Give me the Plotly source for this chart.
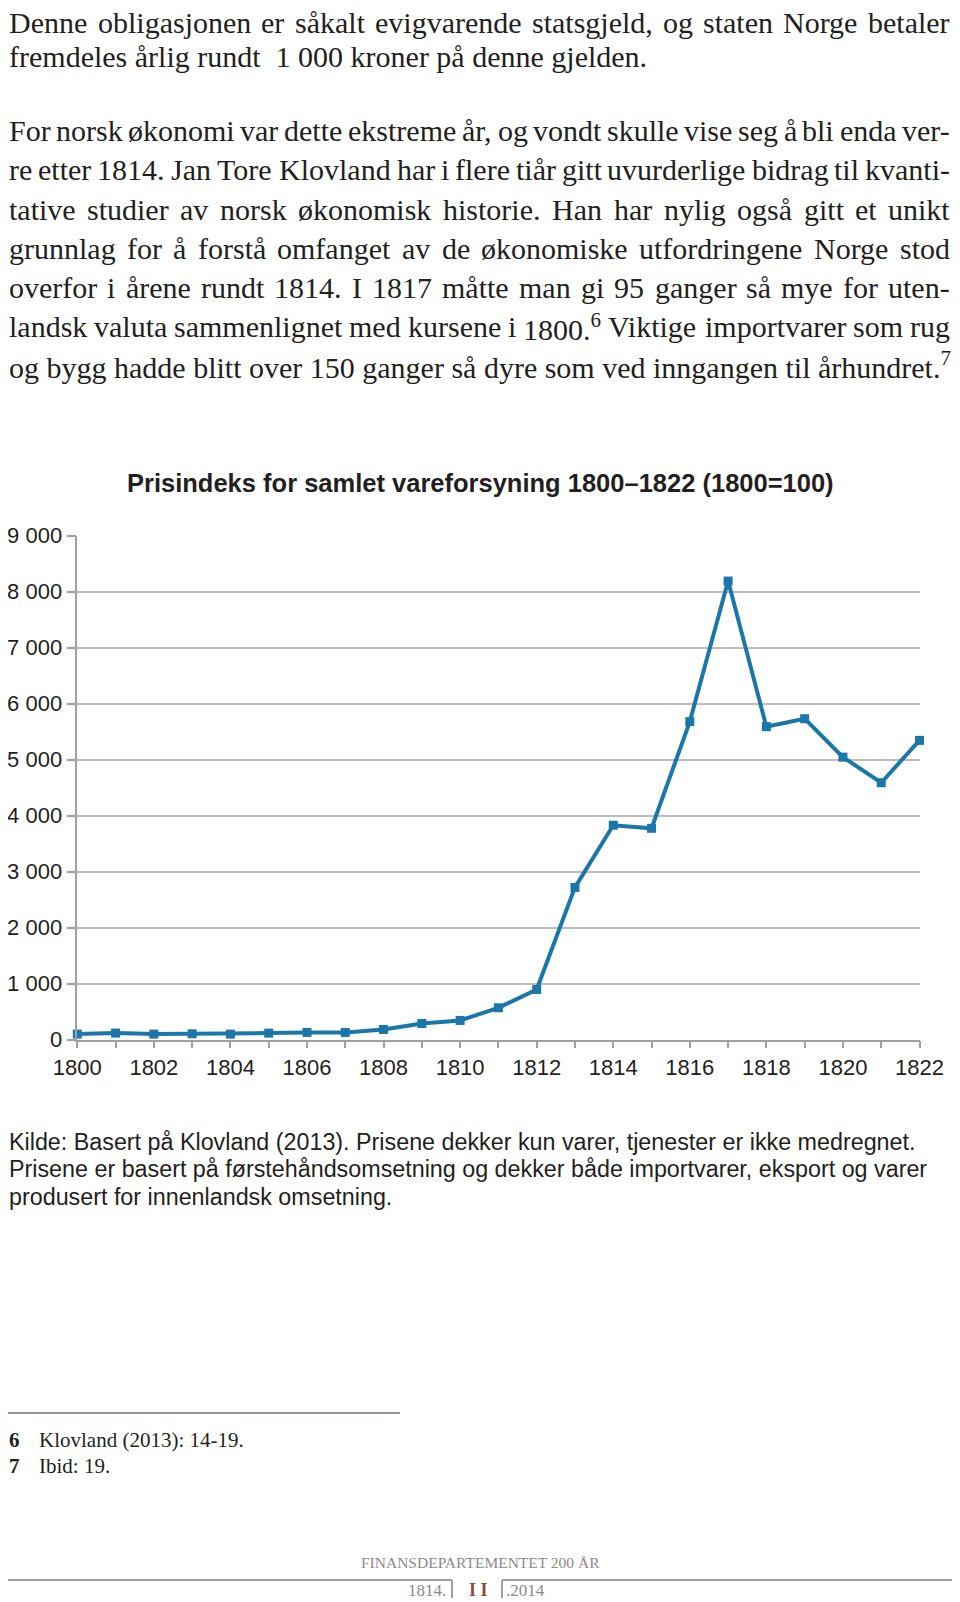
import plotly.graph_objects as go

# ---- data ----
years = list(range(1800, 1823))
price_index = [100, 118, 100, 106, 100, 118, 130, 130, 183, 290, 344, 570, 897,
               2720, 3830, 3775, 5680, 8190, 5590, 5732, 5046, 4589, 5345]
y_tickvals = [0, 1000, 2000, 3000, 4000, 5000, 6000, 7000, 8000, 9000]
y_ticktext = ["0", "1 000", "2 000", "3 000", "4 000", "5 000", "6 000", "7 000", "8 000", "9 000"]
x_tickvals = [1800, 1802, 1804, 1806, 1808, 1810, 1812, 1814, 1816, 1818, 1820, 1822]
x_ticktext = [str(v) for v in x_tickvals]

title_text = "Prisindeks for samlet vareforsyning 1800–1822 (1800=100)"

# (text, justified?)
body_lines = [
    ("Denne obligasjonen er såkalt evigvarende statsgjeld, og staten Norge betaler", True),
    ("fremdeles årlig rundt\u00a0 1\u00a0000 kroner på denne gjelden.", False),
    ("For norsk økonomi var dette ekstreme år, og vondt skulle vise seg å bli enda ver-", True),
    ("re etter 1814. Jan Tore Klovland har i flere tiår gitt uvurderlige bidrag til kvanti-", True),
    ("tative studier av norsk økonomisk historie. Han har nylig også gitt et unikt", True),
    ("grunnlag for å forstå omfanget av de økonomiske utfordringene Norge stod", True),
    ("overfor i årene rundt 1814. I 1817 måtte man gi 95 ganger så mye for uten-", True),
    ("landsk valuta sammenlignet med kursene i 1800.<sup>6</sup> Viktige importvarer som rug", True),
    ("og bygg hadde blitt over 150 ganger så dyre som ved inngangen til århundret.<sup>7</sup>", False),
]
caption_lines = [
    "Kilde: Basert på Klovland (2013). Prisene dekker kun varer, tjenester er ikke medregnet.",
    "Prisene er basert på førstehåndsomsetning og dekker både importvarer, eksport og varer",
    "produsert for innenlandsk omsetning.",
]
footnotes = [("6", "Klovland (2013): 14-19."), ("7", "Ibid: 19.")]

# The page body has an 8px margin, so the figure is sized to sit inside the window
OFF = 8
W, H = 960 - 2 * OFF, 1602 - OFF


def px(x):
    return (x - OFF) / W


def py(y):
    return 1 - (y - OFF) / H


BLUE = "#1b76a9"
TXT = "#231f20"
SERIF = "Liberation Serif, Times New Roman, serif"
SANS = "Liberation Sans, Arial, sans-serif"

# Times-compatible advance widths (1/1000 em) used to justify the body text
_w = dict(a=444, b=500, c=444, d=500, e=444, f=333, g=500, h=500, i=278, j=278, k=500, l=278,
          m=778, n=500, o=500, p=500, q=500, r=333, s=389, t=278, u=500, v=500, w=722, x=500,
          y=500, z=444, A=722, B=667, C=667, D=722, E=611, F=556, G=722, H=722, I=333, J=389,
          K=722, L=611, M=889, N=722, O=722, P=556, Q=722, R=667, S=556, T=611, U=722, V=722,
          W=944, X=722, Y=722, Z=611)
_w.update({str(d): 500 for d in range(10)})
_w.update({" ": 250, ".": 250, ",": 250, "-": 333, ":": 278, "(": 333, ")": 333,
           "å": 444, "ø": 500, "æ": 667, "\u00a0": 250})


def word_width(word, size):
    total = 0.0
    rest = word
    while rest:
        if rest.startswith("<sup>"):
            end = rest.index("</sup>")
            total += sum(_w.get(c, 500) for c in rest[5:end]) * 0.7
            rest = rest[end + 6:]
        else:
            total += _w.get(rest[0], 500)
            rest = rest[1:]
    return total / 1000.0 * size


BODY_SIZE = 30
LEFT, RIGHT = 8, 949

fig = go.Figure()
fig.add_trace(go.Scatter(
    x=years, y=price_index, mode="lines+markers",
    line=dict(color=BLUE, width=4),
    marker=dict(symbol="square", size=9, color=BLUE),
    cliponaxis=False, showlegend=False, hoverinfo="x+y",
))

ann = []
body_y = [22.0, 56.0, 130.7, 169.5, 209.4, 248.2, 287.0, 326.8, 364.6]
for (t, just), y in zip(body_lines, body_y):
    if not just:
        ann.append(dict(x=px(LEFT), y=py(y), xref="paper", yref="paper", text=t,
                        xanchor="left", yanchor="middle", showarrow=False, borderpad=0,
                        font=dict(family=SERIF, size=BODY_SIZE, color=TXT)))
        continue
    words = t.split(" ")
    widths = [word_width(wd, BODY_SIZE) for wd in words]
    gap = (RIGHT - LEFT - sum(widths)) / (len(words) - 1)
    xpos = LEFT
    for wd, ww in zip(words, widths):
        ann.append(dict(x=px(xpos), y=py(y), xref="paper", yref="paper", text=wd,
                        xanchor="left", yanchor="middle", showarrow=False, borderpad=0,
                        font=dict(family=SERIF, size=BODY_SIZE, color=TXT)))
        xpos += ww + gap

ann.append(dict(x=px(480), y=py(483), xref="paper", yref="paper", text="<b>" + title_text + "</b>",
                xanchor="center", yanchor="middle", showarrow=False,
                font=dict(family=SANS, size=25.5, color=TXT)))

for t, y in zip(caption_lines, [1142, 1169, 1197]):
    ann.append(dict(x=px(8), y=py(y), xref="paper", yref="paper", text=t,
                    xanchor="left", yanchor="middle", showarrow=False, borderpad=0,
                    font=dict(family=SANS, size=23.3, color=TXT)))

for (n, t), y in zip(footnotes, [1440, 1466]):
    ann.append(dict(x=px(8), y=py(y), xref="paper", yref="paper", text="<b>" + n + "</b>",
                    xanchor="left", yanchor="middle", showarrow=False, borderpad=0,
                    font=dict(family=SERIF, size=21, color=TXT)))
    ann.append(dict(x=px(38), y=py(y), xref="paper", yref="paper", text=t,
                    xanchor="left", yanchor="middle", showarrow=False, borderpad=0,
                    font=dict(family=SERIF, size=21, color=TXT)))

ann.append(dict(x=px(480), y=py(1562), xref="paper", yref="paper", text="FINANSDEPARTEMENTET 200 ÅR",
                xanchor="center", yanchor="middle", showarrow=False,
                font=dict(family=SERIF, size=15.5, color="#8a8a8a")))
ann.append(dict(x=px(448), y=py(1590), xref="paper", yref="paper", text="1814.",
                xanchor="right", yanchor="middle", showarrow=False,
                font=dict(family=SERIF, size=17, color="#8a8a8a")))
ann.append(dict(x=px(478), y=py(1590), xref="paper", yref="paper", text="<b>I I</b>",
                xanchor="center", yanchor="middle", showarrow=False,
                font=dict(family=SERIF, size=18, color="#8b4a3c")))
ann.append(dict(x=px(504), y=py(1590), xref="paper", yref="paper", text=".2014",
                xanchor="left", yanchor="middle", showarrow=False,
                font=dict(family=SERIF, size=17, color="#8a8a8a")))

shapes = [
    dict(type="line", xref="paper", yref="paper", x0=px(8), x1=px(400), y0=py(1413), y1=py(1413),
         line=dict(color="#7d6e60", width=1.5)),
    dict(type="line", xref="paper", yref="paper", x0=px(8), x1=px(452), y0=py(1580), y1=py(1580),
         line=dict(color="#a0a0a0", width=2)),
    dict(type="line", xref="paper", yref="paper", x0=px(452), x1=px(452), y0=py(1580), y1=py(1598),
         line=dict(color="#a0a0a0", width=2)),
    dict(type="line", xref="paper", yref="paper", x0=px(502), x1=px(955), y0=py(1580), y1=py(1580),
         line=dict(color="#a0a0a0", width=2)),
    dict(type="line", xref="paper", yref="paper", x0=px(502), x1=px(502), y0=py(1580), y1=py(1598),
         line=dict(color="#a0a0a0", width=2)),
]

fig.update_layout(
    width=W, height=H, margin=dict(l=0, r=0, t=0, b=0, autoexpand=False),
    paper_bgcolor="white", plot_bgcolor="white",
    annotations=ann, shapes=shapes,
    xaxis=dict(domain=[px(77.3), px(919.5)], range=[1800, 1822], automargin=False,
               tickmode="array", tickvals=x_tickvals, ticktext=x_ticktext,
               ticks="outside", ticklen=7, tickcolor="#a0a0a0", tickwidth=1.5,
               minor=dict(ticks="outside", ticklen=7, tickcolor="#a0a0a0", tickwidth=1.5,
                          tick0=1800, dtick=1, showgrid=False),
               showline=True, linecolor="#a0a0a0", linewidth=1.5,
               showgrid=False, zeroline=False,
               tickfont=dict(family=SANS, size=22, color=TXT)),
    yaxis=dict(domain=[py(1039.7), py(535.7)], range=[0, 9000], automargin=False,
               tickmode="array", tickvals=y_tickvals, ticktext=y_ticktext,
               ticks="outside", ticklen=9, tickcolor="#a0a0a0", tickwidth=1.5,
               showline=True, linecolor="#a0a0a0", linewidth=1.5,
               showgrid=True, gridcolor="#bdbdbd", gridwidth=1.5, zeroline=False,
               tickfont=dict(family=SANS, size=22, color=TXT)),
)

fig.write_html("out.html")
